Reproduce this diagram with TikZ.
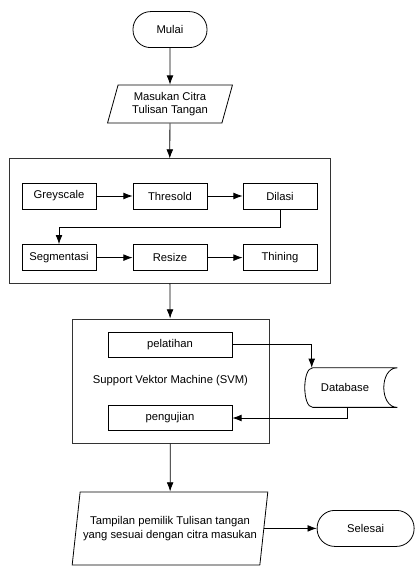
\documentclass[tikz,border=0pt]{standalone}
\usepackage{fontspec}
\setmainfont{Liberation Sans}
\usetikzlibrary{shapes.geometric, arrows.meta}

\tikzset{
    term/.style={draw=black, line width=0.2mm, rounded corners=0.44cm, minimum height=0.9cm},
    io/.style={draw=black, line width=0.2mm, trapezium, trapezium left angle=77, trapezium right angle=103,
        trapezium stretches=true, inner xsep=0pt, align=center},
    proc/.style={draw=black, line width=0.2mm, minimum width=1.85cm, minimum height=0.65cm},
    group/.style={draw=black!80, line width=0.25mm, minimum height=3.1cm},
    flow/.style={-{Latex[length=2.3mm, width=1.7mm]}, line width=0.2mm},
}

\begin{document}
\begin{tikzpicture}[font=\fontsize{8}{9.6}\selectfont]
    \useasboundingbox (0, 0) rectangle (10.375, -14.15);

    \node[term, minimum width=1.85cm] (mulai) at (4.25, -0.74) {Mulai};
    \node[io, minimum width=3.125cm, minimum height=0.95cm] (masuk) at (4.25, -2.6) {Masukan Citra\\Tulisan Tangan};

    \node[group, minimum width=8.025cm] (prep) at (4.2375, -5.525) {};
    \node[proc] (grey) at (1.475, -4.9) {Greyscale};
    \node[proc] (thres) at (4.25, -4.9) {Thresold};
    \node[proc] (dilasi) at (7.0, -4.9) {Dilasi};
    \node[proc] (segmen) at (1.475, -6.44) {Segmentasi};
    \node[proc] (resize) at (4.25, -6.44) {Resize};
    \node[proc] (thin) at (7.0, -6.44) {Thining};
    \coordinate (turn) at (7.0, -5.675);

    \node[group, minimum width=4.925cm] (svm) at (4.2625, -9.525) {Support Vektor Machine (SVM)};
    \node[proc, minimum width=3.1cm, minimum height=0.625cm] (latih) at (4.25, -8.61) {pelatihan};
    \node[proc, minimum width=3.1cm, minimum height=0.625cm] (uji) at (4.25, -10.45) {pengujian};

    % stored data symbol
    \node[minimum width=2.3cm, minimum height=0.975cm] (store) at (8.775, -9.69) {Database\hspace*{0.3cm}};
    \draw[line width=0.2mm] (store.north east) -- ([xshift=0.2cm]store.north west)
        .. controls ([xshift=-0.065cm]store.north west) and ([xshift=-0.065cm]store.south west) .. ([xshift=0.2cm]store.south west)
        -- (store.south east)
        .. controls ([xshift=-0.45cm]store.south east) and ([xshift=-0.45cm]store.north east) .. (store.north east);
    \coordinate (dbin) at ([xshift=0.175cm]store.north west);
    \coordinate (dbout) at ([xshift=-0.1cm]store.south);

    \node[io, minimum width=4.9cm, minimum height=1.825cm] (tampil) at (4.25, -13.21) {Tampilan pemilik Tulisan tangan\\yang sesuai dengan citra masukan};
    \node[term, minimum width=2.425cm] (selesai) at (9.14, -13.21) {Selesai};

    \draw[flow] (mulai) -- (masuk);
    \draw[flow] (masuk) -- (prep);
    \draw[flow] (grey) -- (thres);
    \draw[flow] (thres) -- (dilasi);
    \draw[flow] (dilasi) -- (turn) -| (segmen);
    \draw[flow] (segmen) -- (resize);
    \draw[flow] (resize) -- (thin);
    \draw[flow] (prep) -- (svm);
    \draw[flow] (latih) -| (dbin);
    \draw[flow] (dbout) |- (uji);
    \draw[flow] (svm) -- (tampil);
    \draw[flow] (tampil) -- (selesai);

\end{tikzpicture}
\end{document}
